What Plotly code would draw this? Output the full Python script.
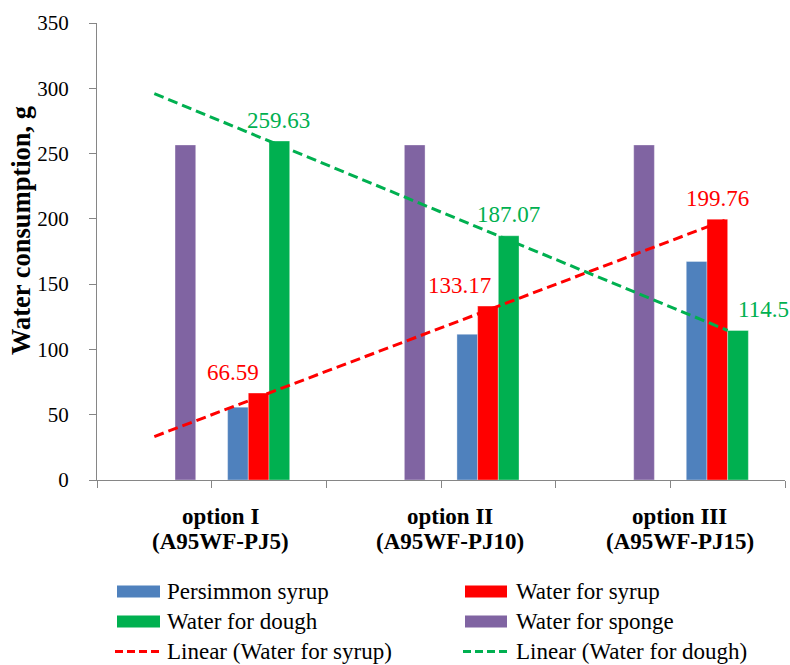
import numpy as np
import plotly.graph_objects as go

# ---- data -------------------------------------------------------------
option_names = ["option I", "option II", "option III"]
option_codes = ["(A95WF-PJ5)", "(A95WF-PJ10)", "(A95WF-PJ15)"]
persimmon_syrup = [55.8, 111.6, 167.4]
water_for_syrup = [66.59, 133.17, 199.76]
water_for_dough = [259.63, 187.07, 114.5]
water_for_sponge = [256.6, 256.6, 256.6]
y_ticks = [0, 50, 100, 150, 200, 250, 300, 350]

# ---- colours / fonts --------------------------------------------------
C_BLUE, C_RED, C_GREEN, C_PURPLE = "#4F81BD", "#FF0000", "#00B050", "#8064A2"
AXIS_GREY = "#868686"
SERIF = "Liberation Serif"

# Each option occupies two category slots: the sponge water sits in the
# first slot, the syrup / dough components in the second one.
n_opt = len(option_names)
slots = np.arange(1, 2 * n_opt + 1)          # 1..6


def spread(values, first):
    out = [None] * (2 * n_opt)
    for i, v in enumerate(values):
        out[2 * i + (0 if first else 1)] = v
    return out


sponge_slots = spread(water_for_sponge, True)
persimmon_slots = spread(persimmon_syrup, False)
syrup_slots = spread(water_for_syrup, False)
dough_slots = spread(water_for_dough, False)

BARGAP = 0.278
N_SERIES = 4
slot_w = (1 - BARGAP) / N_SERIES


def series_offset(k):
    return (k - (N_SERIES - 1) / 2) * slot_w


# ---- figure geometry --------------------------------------------------
W, H = 790, 665
ML, MR, MT, MB = 97, 5, 23, 185
PW, PH = W - ML - MR, H - MT - MB


def X(px):
    return (px - ML) / PW


def Y(py):
    return (H - MB - py) / PH


fig = go.Figure()
bar_line = dict(color="rgba(255,255,255,0.35)", width=1)
fig.add_trace(go.Bar(x=slots, y=persimmon_slots, name="Persimmon syrup",
                     marker=dict(color=C_BLUE, line=bar_line)))
fig.add_trace(go.Bar(x=slots, y=syrup_slots, name="Water for syrup",
                     marker=dict(color=C_RED, line=bar_line)))
fig.add_trace(go.Bar(x=slots, y=dough_slots, name="Water for dough",
                     marker=dict(color=C_GREEN, line=bar_line)))
fig.add_trace(go.Bar(x=slots, y=sponge_slots, name="Water for sponge",
                     marker=dict(color=C_PURPLE, line=bar_line)))


# Linear trendlines fitted on the occupied slots, drawn over all slots
def trend(slot_values):
    xs = np.array([x for x, v in zip(slots, slot_values) if v is not None], float)
    ys = np.array([v for v in slot_values if v is not None], float)
    k, b = np.polyfit(xs, ys, 1)
    tx = np.array([slots[0], slots[-1]], float)
    return tx, k * tx + b


DASH = "10px,5px"
tx, ty = trend(syrup_slots)
fig.add_trace(go.Scatter(x=tx, y=ty, mode="lines", name="Linear (Water for syrup)",
                         line=dict(color=C_RED, width=3, dash=DASH)))
tx, ty = trend(dough_slots)
fig.add_trace(go.Scatter(x=tx, y=ty, mode="lines", name="Linear (Water for dough)",
                         line=dict(color=C_GREEN, width=3, dash=DASH)))

annotations = []

# data labels (value labels above the syrup- and dough-water bars)
syrup_shift = [-26, -28, 0]
dough_shift = [-1, 0, 25]
for i in range(n_opt):
    xc = slots[2 * i + 1]
    annotations.append(dict(
        x=xc + series_offset(1), y=water_for_syrup[i], xref="x", yref="y",
        text=f"{water_for_syrup[i]:g}", showarrow=False, yanchor="middle",
        yshift=21, xshift=syrup_shift[i],
        font=dict(family=SERIF, size=23, color=C_RED)))
    annotations.append(dict(
        x=xc + series_offset(2), y=water_for_dough[i], xref="x", yref="y",
        text=f"{water_for_dough[i]:g}", showarrow=False, yanchor="middle",
        yshift=21, xshift=dough_shift[i],
        font=dict(family=SERIF, size=23, color=C_GREEN)))

# two-line category labels
for i in range(n_opt):
    xc = slots[2 * i] + 0.58
    for j, txt in enumerate([option_names[i], option_codes[i]]):
        annotations.append(dict(
            x=xc, y=Y(516 + 25 * j), xref="x", yref="paper",
            text=f"<b>{txt}</b>", showarrow=False, yanchor="middle",
            font=dict(family=SERIF, size=23, color="black")))

# y-axis title
annotations.append(dict(
    x=X(21), y=Y(231), xref="paper", yref="paper", textangle=-90,
    text="<b>Water consumption, g</b>", showarrow=False,
    xanchor="center", yanchor="middle",
    font=dict(family=SERIF, size=26.5, color="black")))

# legend (two columns, three rows)
shapes = []
legend_items = [
    ("Persimmon syrup", C_BLUE, "bar"), ("Water for syrup", C_RED, "bar"),
    ("Water for dough", C_GREEN, "bar"), ("Water for sponge", C_PURPLE, "bar"),
    ("Linear (Water for syrup)", C_RED, "line"), ("Linear (Water for dough)", C_GREEN, "line"),
]
col_x = [(117, 160, 165), (465, 507, 514)]
row_y = [591.5, 621.5, 651.5]
for idx, (label, col, kind) in enumerate(legend_items):
    x0, x1, xt = col_x[idx % 2]
    yc = row_y[idx // 2]
    if kind == "bar":
        shapes.append(dict(type="rect", xref="paper", yref="paper",
                           x0=X(x0), x1=X(x1), y0=Y(yc + 6), y1=Y(yc - 6),
                           fillcolor=col, line=dict(width=0)))
    else:
        shapes.append(dict(type="line", xref="paper", yref="paper",
                           x0=X(x0 - 2), x1=X(x1), y0=Y(yc), y1=Y(yc),
                           line=dict(color=col, width=3, dash="8px,4px")))
    annotations.append(dict(
        x=X(xt), y=Y(yc), xref="paper", yref="paper", text=label,
        showarrow=False, xanchor="left", yanchor="middle",
        font=dict(family=SERIF, size=23, color="black")))

fig.update_layout(
    width=W, height=H,
    margin=dict(l=ML, r=MR, t=MT, b=MB, pad=0),
    paper_bgcolor="white", plot_bgcolor="white",
    barmode="group", bargap=BARGAP, bargroupgap=0,
    showlegend=False,
    font=dict(family=SERIF, color="black"),
    annotations=annotations, shapes=shapes,
    xaxis=dict(range=[0.5, 2 * n_opt + 0.5], tickmode="array",
               tickvals=[k + 0.5 for k in range(0, 2 * n_opt + 1)],
               ticktext=[""] * (2 * n_opt + 1),
               ticks="outside", ticklen=7, tickcolor=AXIS_GREY, tickwidth=1,
               showline=True, linecolor=AXIS_GREY, linewidth=1,
               showgrid=False, zeroline=False, fixedrange=True),
    yaxis=dict(range=[0, 350], tickmode="array", tickvals=y_ticks,
               ticks="outside", ticklen=7, tickcolor=AXIS_GREY, tickwidth=1,
               showline=True, linecolor=AXIS_GREY, linewidth=1,
               showgrid=False, zeroline=False, ticklabelstandoff=16,
               tickfont=dict(family=SERIF, size=21, color="black"),
               fixedrange=True),
)

fig.write_html("out.html")
